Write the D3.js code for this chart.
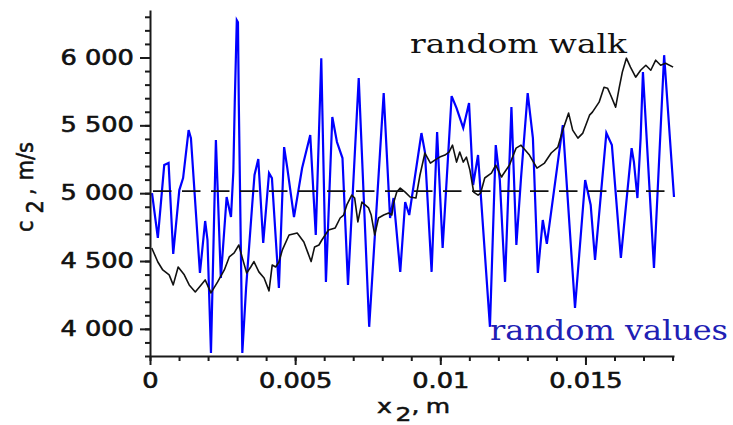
<!DOCTYPE html>
<html>
<head>
<meta charset="utf-8">
<script src="https://cdn.jsdelivr.net/npm/d3@7"></script>
<style>
  html, body { margin: 0; padding: 0; background: #fff; }
  svg { display: block; }
</style>
</head>
<body>
<svg id="chart" width="733" height="425"></svg>
<script>
// Sound speed c2 (m/s) along coordinate x2 (m): independent random values
// and a random walk, with the mean level drawn as a dashed line.
const randomValues = [
  [0.00007, 5000], [0.00027, 4670], [0.00049, 5207], [0.00064, 5222], [0.00080, 4552],
  [0.00101, 5023], [0.00114, 5111], [0.00133, 5465], [0.00141, 5406], [0.00172, 4412],
  [0.00190, 4795], [0.00198, 4655], [0.00210, 3823], [0.00227, 5391], [0.00244, 4375],
  [0.00264, 4972], [0.00279, 4824], [0.00287, 5156], [0.00292, 5671], [0.00299, 6275],
  [0.00303, 6260], [0.00306, 5649], [0.00318, 3823], [0.00331, 4302], [0.00352, 4913],
  [0.00360, 5134], [0.00373, 5251], [0.00390, 4633], [0.00410, 5148], [0.00420, 5111],
  [0.00444, 4302], [0.00462, 5340], [0.00473, 5185], [0.00496, 4824], [0.00524, 5185],
  [0.00552, 5428], [0.00571, 4692], [0.00590, 5995], [0.00606, 4346], [0.00628, 5561],
  [0.00644, 5377], [0.00663, 5259], [0.00682, 4324], [0.00719, 5848], [0.00755, 4015],
  [0.00805, 5737], [0.00827, 4817], [0.00839, 4964], [0.00862, 4420], [0.00879, 4935],
  [0.00893, 4839], [0.00935, 5443], [0.00947, 5303], [0.00970, 4420], [0.00989, 5450],
  [0.01008, 4596], [0.01039, 5715], [0.01056, 5627], [0.01079, 5480], [0.01099, 5664],
  [0.01113, 5060], [0.01130, 5281], [0.01171, 4015], [0.01191, 5354], [0.01205, 5097],
  [0.01223, 4346], [0.01245, 5634], [0.01262, 4618], [0.01278, 5111], [0.01301, 5737],
  [0.01319, 5406], [0.01336, 4412], [0.01353, 4802], [0.01367, 4626], [0.01422, 5502],
  [0.01464, 4155], [0.01499, 5097], [0.01518, 4913], [0.01533, 4508], [0.01572, 5443],
  [0.01591, 5354], [0.01622, 4523], [0.01659, 5332], [0.01667, 5229], [0.01679, 4964],
  [0.01690, 5406], [0.01698, 5892], [0.01736, 4449], [0.01771, 6017], [0.01805, 4972]
];

const randomWalk = [
  [0.00006, 4596], [0.00027, 4493], [0.00044, 4434], [0.00066, 4398], [0.00080, 4324],
  [0.00097, 4456], [0.00118, 4398], [0.00135, 4324], [0.00156, 4272], [0.00176, 4324],
  [0.00190, 4361], [0.00210, 4265], [0.00233, 4346], [0.00256, 4434], [0.00273, 4530],
  [0.00290, 4560], [0.00306, 4618], [0.00318, 4523], [0.00333, 4412], [0.00347, 4456],
  [0.00358, 4496], [0.00375, 4420], [0.00393, 4375], [0.00410, 4280], [0.00421, 4471],
  [0.00433, 4456], [0.00444, 4493], [0.00456, 4582], [0.00479, 4692], [0.00507, 4707],
  [0.00530, 4640], [0.00544, 4560], [0.00555, 4496], [0.00567, 4604], [0.00582, 4618],
  [0.00592, 4655], [0.00615, 4729], [0.00638, 4744], [0.00655, 4817], [0.00667, 4839],
  [0.00678, 4913], [0.00695, 4986], [0.00705, 4964], [0.00716, 4788], [0.00730, 4935],
  [0.00741, 4913], [0.00753, 4891], [0.00762, 4839], [0.00774, 4692], [0.00787, 4817],
  [0.00805, 4839], [0.00822, 4854], [0.00833, 4839], [0.00839, 4928], [0.00850, 5008],
  [0.00862, 5038], [0.00879, 5008], [0.00896, 4972], [0.00916, 4964], [0.00930, 5134],
  [0.00947, 5296], [0.00966, 5222], [0.00981, 5244], [0.00998, 5266], [0.01016, 5281],
  [0.01030, 5303], [0.01042, 5354], [0.01056, 5229], [0.01067, 5303], [0.01079, 5229],
  [0.01090, 5266], [0.01102, 5170], [0.01115, 5008], [0.01130, 4986], [0.01139, 5001],
  [0.01153, 5112], [0.01176, 5148], [0.01191, 5207], [0.01211, 5119], [0.01215, 5134],
  [0.01238, 5207], [0.01261, 5332], [0.01278, 5354], [0.01307, 5281], [0.01333, 5185],
  [0.01359, 5222], [0.01382, 5296], [0.01405, 5340], [0.01422, 5465], [0.01442, 5590],
  [0.01456, 5465], [0.01474, 5406], [0.01491, 5443], [0.01514, 5575], [0.01524, 5597],
  [0.01547, 5671], [0.01564, 5781], [0.01576, 5774], [0.01587, 5722], [0.01604, 5634],
  [0.01616, 5774], [0.01627, 5892], [0.01641, 5995], [0.01655, 5929], [0.01673, 5855],
  [0.01690, 5906], [0.01708, 5943], [0.01725, 5906], [0.01742, 5980], [0.01759, 5943],
  [0.01776, 5958], [0.01802, 5929]
];

const meanLevel = 5015;

const xTickValues = [0, 0.005, 0.01, 0.015];
const xTickLabels = ["0", "0.005", "0.01", "0.015"];
const yTickValues = [4000, 4500, 5000, 5500, 6000];
const yTickLabels = ["4 000", "4 500", "5 000", "5 500", "6 000"];
const xMinorTicks = [0, 0.001, 0.002, 0.003, 0.004, 0.005, 0.006, 0.007, 0.008, 0.009,
                     0.010, 0.011, 0.012, 0.013, 0.014, 0.015, 0.016, 0.017, 0.018];
const yMinorTicks = [3800, 3900, 4000, 4100, 4200, 4300, 4400, 4500, 4600, 4700, 4800,
                     4900, 5000, 5100, 5200, 5300, 5400, 5500, 5600, 5700, 5800, 5900,
                     6000, 6100, 6200, 6300];

const seriesLabels = ["random walk", "random values"];

const svg = d3.select("#chart");
const W = 733, H = 425;
svg.append("rect").attr("width", W).attr("height", H).attr("fill", "#fff");

const x = d3.scaleLinear().domain([0, 0.01805]).range([150, 674]);
const y = d3.scaleLinear().domain([3800, 6350]).range([356, 10]);

const sansFont = "'DejaVu Sans', Verdana, sans-serif";
const serifFont = "'DejaVu Serif', serif";
const axisColor = "#1a1a1a";
const stretch = 1.25;

const line = d3.line().x(d => x(d[0])).y(d => y(d[1]));

// random values series
svg.append("path")
  .datum(randomValues)
  .attr("d", line)
  .attr("fill", "none")
  .attr("stroke", "#0000ff")
  .attr("stroke-width", 2.2)
  .attr("stroke-linejoin", "miter");

// mean level
svg.append("line")
  .attr("x1", x(0)).attr("x2", x(0.01805))
  .attr("y1", y(meanLevel)).attr("y2", y(meanLevel))
  .attr("stroke", "#111")
  .attr("stroke-width", 1.6)
  .attr("stroke-dasharray", "18.5,10.5")
  .attr("stroke-dashoffset", 26);

// random walk series
svg.append("path")
  .datum(randomWalk)
  .attr("d", line)
  .attr("fill", "none")
  .attr("stroke", "#111")
  .attr("stroke-width", 1.6)
  .attr("stroke-linejoin", "round");

function styleAxis(g) {
  g.selectAll("path, line").attr("stroke", axisColor).attr("stroke-width", 2);
}

function styleTickText(sel) {
  sel.attr("font-family", sansFont)
    .attr("font-size", 20.5)
    .attr("fill", "#111")
    .attr("stroke", "#111")
    .attr("stroke-width", 0.6)
    .attr("transform", `scale(${stretch},1)`);
}

// y axis: minor ticks, then major ticks with labels
svg.append("g")
  .attr("transform", `translate(${x(0)},0)`)
  .call(d3.axisLeft(y).tickValues(yMinorTicks).tickSize(5).tickFormat(""))
  .call(g => g.select(".domain").remove())
  .call(styleAxis);

const yAxisG = svg.append("g")
  .attr("transform", `translate(${x(0)},0)`)
  .call(d3.axisLeft(y).tickValues(yTickValues).tickSize(10).tickSizeOuter(0)
    .tickFormat((d, i) => yTickLabels[i]))
  .call(styleAxis);
yAxisG.selectAll("text").call(styleTickText);

// x axis: minor ticks, then major ticks with labels
svg.append("g")
  .attr("transform", `translate(0,${y(3800)})`)
  .call(d3.axisBottom(x).tickValues(xMinorTicks).tickSize(5).tickFormat(""))
  .call(g => g.select(".domain").remove())
  .call(styleAxis);

const xAxisG = svg.append("g")
  .attr("transform", `translate(0,${y(3800)})`)
  .call(d3.axisBottom(x).tickValues(xTickValues).tickSize(9).tickSizeOuter(0)
    .tickFormat((d, i) => xTickLabels[i]))
  .call(styleAxis);
xAxisG.selectAll("text")
  .call(styleTickText)
  .attr("y", 32)
  .attr("dy", 0);

// axis titles
const xTitle = svg.append("text")
  .attr("transform", `translate(377,413) scale(${stretch},1)`)
  .attr("font-family", sansFont)
  .attr("font-size", 20)
  .attr("fill", "#111")
  .attr("stroke", "#111")
  .attr("stroke-width", 0.5);
xTitle.append("tspan").text("x");
xTitle.append("tspan").attr("dx", 3).attr("dy", 8).text("2");
xTitle.append("tspan").attr("dy", -8).text(",");
xTitle.append("tspan").attr("dx", 5).text("m");

const yTitle = svg.append("text")
  .attr("transform", "translate(33,232) rotate(-90) scale(1,1.12)")
  .attr("font-family", sansFont)
  .attr("font-size", 21)
  .attr("fill", "#111")
  .attr("stroke", "#111")
  .attr("stroke-width", 0.5);
yTitle.append("tspan").text("c");
yTitle.append("tspan").attr("dx", 7).attr("dy", 9).text("2");
yTitle.append("tspan").attr("dx", 5).attr("dy", -9).text(",");
yTitle.append("tspan").attr("dx", 8).text("m/s");

// series annotations
svg.append("text")
  .attr("x", 410).attr("y", 53)
  .attr("font-family", serifFont)
  .attr("font-size", 26)
  .attr("fill", "#111")
  .attr("textLength", 217)
  .attr("lengthAdjust", "spacingAndGlyphs")
  .text(seriesLabels[0]);

svg.append("text")
  .attr("x", 490).attr("y", 340)
  .attr("font-family", serifFont)
  .attr("font-size", 27)
  .attr("fill", "#2020b4")
  .attr("textLength", 238)
  .attr("lengthAdjust", "spacingAndGlyphs")
  .text(seriesLabels[1]);
</script>
</body>
</html>
